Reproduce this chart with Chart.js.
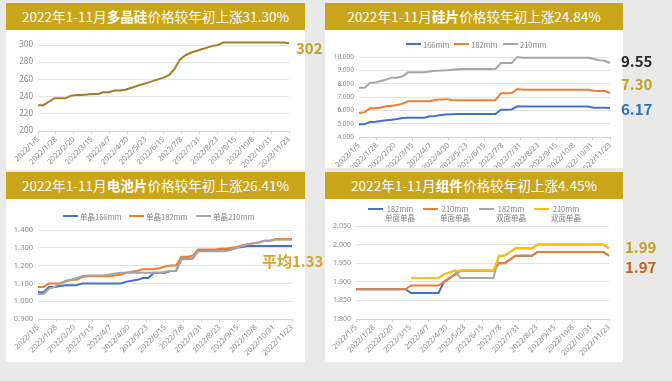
<!DOCTYPE html>
<html><head><meta charset="utf-8">
<script src="https://cdn.jsdelivr.net/npm/chart.js@4/dist/chart.umd.min.js"></script>
<style>
body{margin:0;width:672px;height:381px;background:#e9e9e9;position:relative;overflow:hidden;font-family:"Noto Sans CJK SC","Noto Sans",sans-serif;}
.title{position:absolute;height:27px;background:#c9a51a;color:#fff;font-size:13.6px;line-height:27px;text-align:center;white-space:nowrap;}
.title b{font-weight:700}
.panel{position:absolute;background:#fff;}
.panel canvas{position:absolute;left:0;top:0}
.note{position:absolute;font-weight:700;font-size:15px;line-height:18px;white-space:nowrap;font-family:"Noto Sans CJK SC","Noto Sans",sans-serif;}
.li{position:absolute;font-size:7.5px;color:#7f7f7f;white-space:nowrap;line-height:9px;}
.li i{position:absolute;width:15px;height:2px;}
</style></head>
<body>
<script>
// ---------- data ----------
const weekDates = ['2022/1/5','2022/1/12','2022/1/19','2022/1/26','2022/2/2','2022/2/9','2022/2/16','2022/2/23','2022/3/2','2022/3/9','2022/3/16','2022/3/23','2022/3/30','2022/4/6','2022/4/13','2022/4/20','2022/4/27','2022/5/4','2022/5/11','2022/5/18','2022/5/25','2022/6/1','2022/6/8','2022/6/15','2022/6/22','2022/6/29','2022/7/6','2022/7/13','2022/7/20','2022/7/27','2022/8/3','2022/8/10','2022/8/17','2022/8/24','2022/8/31','2022/9/7','2022/9/14','2022/9/21','2022/9/28','2022/10/5','2022/10/12','2022/10/19','2022/10/26','2022/11/2','2022/11/9','2022/11/16','2022/11/23'];
const tickLabels = ['2022/1/5','2022/1/28','2022/2/20','2022/3/15','2022/4/7','2022/4/30','2022/5/23','2022/6/15','2022/7/8','2022/7/31','2022/8/23','2022/9/15','2022/10/8','2022/10/31','2022/11/23'];

const polysilicon = [230,230,234,238,238,238,241,242,242,242.5,243,243,245,245,247,247,248,250,252,254,256,258,260,262,265,272,283,288,291,293,295,297,299,300,303,303,303,303,303,303,303,303,303,303,303,303,302];

const wafer166 = [4.95,4.95,5.12,5.15,5.2,5.25,5.3,5.35,5.42,5.45,5.45,5.45,5.45,5.55,5.58,5.65,5.68,5.7,5.72,5.72,5.72,5.72,5.72,5.72,5.72,5.72,6.05,6.05,6.07,6.3,6.28,6.28,6.28,6.28,6.28,6.28,6.28,6.28,6.28,6.28,6.28,6.28,6.28,6.2,6.2,6.2,6.17];
const wafer182 = [5.8,5.85,6.15,6.15,6.22,6.3,6.35,6.4,6.5,6.68,6.68,6.68,6.68,6.68,6.8,6.82,6.84,6.78,6.75,6.75,6.75,6.75,6.75,6.75,6.75,6.75,7.28,7.28,7.3,7.6,7.55,7.55,7.55,7.55,7.55,7.55,7.55,7.55,7.55,7.55,7.55,7.55,7.55,7.47,7.45,7.45,7.3];
const wafer210 = [7.7,7.7,8.05,8.08,8.2,8.3,8.45,8.45,8.55,8.85,8.85,8.85,8.85,8.92,8.97,8.98,9.0,9.05,9.08,9.1,9.1,9.1,9.1,9.1,9.1,9.1,9.55,9.55,9.55,10.0,9.95,9.95,9.95,9.95,9.95,9.95,9.95,9.95,9.95,9.95,9.95,9.95,9.95,9.85,9.75,9.72,9.55];

const cell166 = [1.05,1.05,1.08,1.08,1.085,1.09,1.09,1.09,1.10,1.10,1.10,1.10,1.10,1.10,1.10,1.10,1.11,1.115,1.12,1.13,1.13,1.16,1.16,1.16,1.17,1.17,1.24,1.24,1.24,1.285,1.285,1.285,1.285,1.29,1.29,1.29,1.30,1.305,1.31,1.31,1.31,1.31,1.31,1.31,1.31,1.31,1.31];
const cell182 = [1.08,1.08,1.10,1.10,1.10,1.11,1.12,1.12,1.135,1.14,1.14,1.14,1.14,1.14,1.145,1.15,1.16,1.165,1.17,1.18,1.18,1.18,1.185,1.195,1.20,1.20,1.25,1.25,1.255,1.29,1.29,1.29,1.29,1.295,1.295,1.30,1.305,1.315,1.32,1.325,1.33,1.34,1.34,1.35,1.35,1.35,1.35];
const cell210 = [1.04,1.04,1.07,1.08,1.10,1.115,1.12,1.13,1.14,1.145,1.145,1.145,1.145,1.15,1.155,1.16,1.16,1.16,1.16,1.16,1.16,1.16,1.16,1.165,1.17,1.17,1.235,1.235,1.24,1.28,1.28,1.28,1.28,1.28,1.28,1.29,1.30,1.31,1.32,1.325,1.33,1.34,1.34,1.345,1.345,1.345,1.345];

const module182Mono = [1.88,1.88,1.88,1.88,1.88,1.88,1.88,1.88,1.88,1.88,1.87,1.87,1.87,1.87,1.87,1.87,1.90,1.91,1.92,1.93,1.93,1.93,1.93,1.93,1.93,1.93,1.95,1.95,1.96,1.97,1.97,1.97,1.97,1.98,1.98,1.98,1.98,1.98,1.98,1.98,1.98,1.98,1.98,1.98,1.98,1.98,1.97];
const module210Mono = [1.88,1.88,1.88,1.88,1.88,1.88,1.88,1.88,1.88,1.88,1.89,1.89,1.89,1.89,1.89,1.89,1.90,1.91,1.92,1.93,1.93,1.93,1.93,1.93,1.93,1.93,1.95,1.95,1.96,1.97,1.97,1.97,1.97,1.98,1.98,1.98,1.98,1.98,1.98,1.98,1.98,1.98,1.98,1.98,1.98,1.98,1.97];
const module182Bi = [null,null,null,null,null,null,null,null,null,null,1.91,1.91,1.91,1.91,1.91,1.91,1.92,1.925,1.93,1.91,1.91,1.91,1.91,1.91,1.91,1.91,1.97,1.97,1.98,1.99,1.99,1.99,1.99,2.00,2.00,2.00,2.00,2.00,2.00,2.00,2.00,2.00,2.00,2.00,2.00,2.00,1.99];
const module210Bi = [null,null,null,null,null,null,null,null,null,null,1.91,1.91,1.91,1.91,1.91,1.91,1.92,1.925,1.93,1.93,1.93,1.93,1.93,1.93,1.93,1.93,1.97,1.97,1.98,1.99,1.99,1.99,1.99,2.00,2.00,2.00,2.00,2.00,2.00,2.00,2.00,2.00,2.00,2.00,2.00,2.00,1.99];

const waferNames = ['166mm','182mm','210mm'];
const cellNames = ['单晶166mm','单晶182mm','单晶210mm'];
const moduleNames = [['182mm','单面单晶'],['210mm','单面单晶'],['182mm','双面单晶'],['210mm','双面单晶']];

// ---------- helpers ----------
function dayOffset(s){const p=s.split('/').map(Number);return (Date.UTC(p[0],p[1]-1,p[2])-Date.UTC(2022,0,5))/86400000;}
const xDays = weekDates.map(dayOffset);
const tickDays = tickLabels.map(dayOffset);
function pts(arr){return arr.map((v,i)=>({x:xDays[i],y:v}));}

function el(tag,cls,style,html){const e=document.createElement(tag);if(cls)e.className=cls;Object.assign(e.style,style);if(html!=null)e.innerHTML=html;document.body.appendChild(e);return e;}

function panel(l,t,w,h){const p=el('div','panel',{left:l+'px',top:t+'px',width:w+'px',height:h+'px'});const c=document.createElement('canvas');c.width=w;c.height=h;c.style.width=w+'px';c.style.height=h+'px';p.appendChild(c);return c;}

function makeChart(canvas, series, colors, y, lay){
  const n=series.length;
  new Chart(canvas,{
    type:'line',
    data:{datasets:series.map((s,i)=>({data:pts(s),borderColor:colors[i],backgroundColor:colors[i],borderWidth:2,pointRadius:0,tension:0,fill:false,spanGaps:false,clip:false,order:n-i}))},
    options:{
      responsive:false,animation:false,
      layout:{padding:{left:0,right:lay.r,top:lay.t,bottom:0}},
      plugins:{legend:{display:false},tooltip:{enabled:false}},
      scales:{
        x:{type:'linear',min:0,max:tickDays[tickDays.length-1],
          afterBuildTicks:s=>{s.ticks=tickDays.map(v=>({value:v}));},
          ticks:{autoSkip:false,minRotation:45,maxRotation:45,padding:1,color:'#8a8a8a',font:{size:7.5,family:'"Noto Sans", sans-serif'},
            callback:v=>{const i=tickDays.indexOf(v);return i>=0?tickLabels[i]:'';}},
          grid:{drawOnChartArea:false,color:'#d6d6d6',tickLength:3},
          border:{color:'#d6d6d6'},
          afterFit:s=>{s.height=lay.xH;}},
        y:{min:y.min,max:y.max,
          ticks:{stepSize:y.step,padding:5,color:'#8a8a8a',font:{size:y.fs,family:'"Noto Sans", sans-serif'},callback:v=>Number(v).toFixed(y.dec)},
          grid:{color:'#e3e3e3',drawTicks:false},
          border:{display:false},
          afterFit:s=>{s.width=lay.yW;}}
      }
    }
  });
}

function legendItem(x,y,color,lines){
  const d=el('div','li',{left:(x)+'px',top:(y-4.5)+'px'});
  const i=document.createElement('i');i.style.background=color;i.style.left='0px';i.style.top='3.5px';d.appendChild(i);
  const t=document.createElement('span');t.style.position='absolute';t.style.left='17px';t.style.top='0px';t.style.textAlign='center';t.innerHTML=lines.join('<br>');d.appendChild(t);
}

// ---------- titles ----------
el('div','title',{left:'6px',top:'3px',width:'299px'},'2022年1-11月<b>多晶硅</b>价格较年初上涨31.30%');
el('div','title',{left:'325px',top:'3px',width:'298px'},'2022年1-11月<b>硅片</b>价格较年初上涨24.84%');
el('div','title',{left:'6px',top:'172px',width:'299px'},'2022年1-11月<b>电池片</b>价格较年初上涨26.41%');
el('div','title',{left:'325px',top:'172px',width:'298px'},'2022年1-11月<b>组件</b>价格较年初上涨4.45%');

// ---------- charts ----------
const blue='#4472c4', orange='#ed7d31', gray='#a5a5a5', yellow='#ffc000';

makeChart(panel(6,30,299,140),[polysilicon],['#9c8024'],{min:200,max:300,step:20,dec:0,fs:8},{yW:32,r:16,t:15,xH:39});
makeChart(panel(325,30,298,138),[wafer166,wafer182,wafer210],[blue,orange,gray],{min:4,max:10,step:1,dec:3,fs:6.5},{yW:34,r:13,t:27,xH:31});
makeChart(panel(6,199,299,163),[cell166,cell182,cell210],[blue,orange,gray],{min:0.9,max:1.4,step:0.1,dec:3,fs:7.5},{yW:32,r:13,t:31,xH:43});
makeChart(panel(325,199,298,163),[module182Mono,module210Mono,module182Bi,module210Bi],[blue,orange,gray,yellow],{min:1.8,max:2.05,step:0.05,dec:3,fs:7},{yW:31,r:14,t:27,xH:43});

// ---------- legends ----------
legendItem(406,44,blue,[waferNames[0]]);
legendItem(454,44,orange,[waferNames[1]]);
legendItem(503,44,gray,[waferNames[2]]);

legendItem(63,216,blue,[cellNames[0]]);
legendItem(129,216,orange,[cellNames[1]]);
legendItem(196,216,gray,[cellNames[2]]);

legendItem(368,208.5,blue,moduleNames[0]);
legendItem(423,208.5,orange,moduleNames[1]);
legendItem(479,208.5,gray,moduleNames[2]);
legendItem(534,208.5,yellow,moduleNames[3]);

// ---------- end-value notes ----------
el('div','note',{left:'296px',top:'39px',color:'#c59f22'},'302');
el('div','note',{left:'621px',top:'52px',color:'#2b2b2b'},'9.55');
el('div','note',{left:'621px',top:'75px',color:'#c59f22'},'7.30');
el('div','note',{left:'621px',top:'100px',color:'#2e75b6'},'6.17');
el('div','note',{left:'262px',top:'252px',color:'#d2a62c'},'平均1.33');
el('div','note',{left:'625px',top:'238px',color:'#c59f22'},'1.99');
el('div','note',{left:'625px',top:'258px',color:'#c5601c'},'1.97');
</script>
</body></html>
